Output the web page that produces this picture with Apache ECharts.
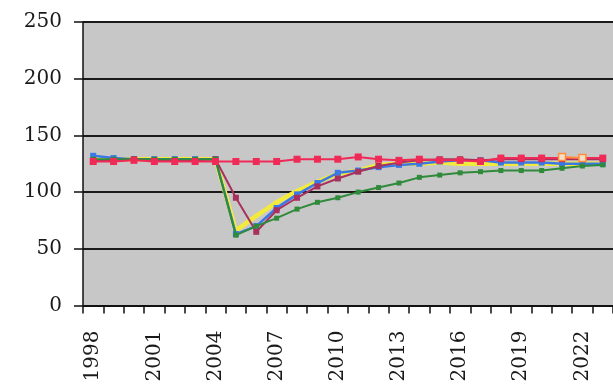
<!DOCTYPE html>
<html>
<head>
<meta charset="utf-8">
<script src="https://cdn.jsdelivr.net/npm/echarts@6/dist/echarts.min.js"></script>
<style>
html,body{margin:0;padding:0;background:#ffffff;}
#chart{width:613px;height:390px;}
</style>
</head>
<body>
<div id="chart"></div>
<script>
const years = ['1998','1999','2000','2001','2002','2003','2004','2005','2006','2007','2008','2009','2010','2011','2012','2013','2014','2015','2016','2017','2018','2019','2020','2021','2022','2023'];
const yTicks = [0, 50, 100, 150, 200, 250];

const redSeries    = [127,127,128,127,127,127,127,127,127,127,129,129,129,131,129,128,129,128,128,127,130,130,130,130,130,130];
const maroonSeries = [128,128,129,128,128,128,129,95,65,84,95,105,112,118,123,126,128,129,129,128,129,129,129,129,129,129];
const greenSeries  = [129,129,129,129,129,129,129,62,70,77,85,91,95,100,104,108,113,115,117,118,119,119,119,121,123,124];
const blueSeries   = [132,130,129,129,129,129,129,63,70,86,98,108,117,119,122,124,125,127,128,128,126,126,126,125,125,125];
const yellowSeries = [129,129,129,129,129,129,129,66,79,91,101,109,116,119,124,125,125,126,125,125,125,125,125,125,125,125];
const orangeSeries = [null,null,null,null,null,null,null,null,null,null,null,null,null,null,null,null,null,null,null,null,null,null,null,131,130,null];

const font = 'DejaVu Serif';
const chart = echarts.init(document.getElementById('chart'), null, {renderer:'canvas'});

function line(name, data, color, width, symSize, z, hollow){
  return {
    name, type:'line', data, z,
    symbol:'rect', symbolSize:symSize, showSymbol:true,
    lineStyle:{color, width},
    itemStyle:{color: hollow ? '#f4e0c8' : color, borderColor:color, borderWidth: hollow ? 1.5 : 0},
    emphasis:{disabled:true},
    animation:false
  };
}

chart.setOption({
  animation:false,
  backgroundColor:'#ffffff',
  grid:{left:83, right:0, top:22, bottom:84.5, show:true, backgroundColor:'#c8c7c8', borderWidth:0},
  xAxis:{
    type:'category', data:years, boundaryGap:true,
    axisLine:{show:true, lineStyle:{color:'#111', width:1.5}},
    axisTick:{show:true, interval:0, length:8, lineStyle:{color:'#111', width:1.5}},
    axisLabel:{interval:2, rotate:90, margin:25, fontFamily:font, fontSize:20, color:'#1a1a1a'},
    splitLine:{show:false}
  },
  yAxis:{
    type:'value', min:yTicks[0], max:yTicks[yTicks.length-1], interval:50,
    axisLine:{show:true, lineStyle:{color:'#111', width:1.5}},
    axisTick:{show:true, length:9, lineStyle:{color:'#111', width:1.5}},
    axisLabel:{margin:21, fontFamily:font, fontSize:20, color:'#1a1a1a'},
    splitLine:{show:true, lineStyle:{color:'#1a1a1a', width:1.8}}
  },
  series:[
    line('Yellow', yellowSeries, '#f2ea3c', 4.5, 4, 2),
    line('Blue', blueSeries, '#3a78e6', 2.5, 6, 3),
    line('Maroon', maroonSeries, '#a8305c', 2, 6, 4),
    line('Green', greenSeries, '#2f8a3a', 2, 5, 5),
    line('Red', redSeries, '#f02a56', 2, 7, 6),
    line('Orange', orangeSeries, '#ff8c3a', 2, 7, 7, true)
  ]
});
</script>
</body>
</html>
